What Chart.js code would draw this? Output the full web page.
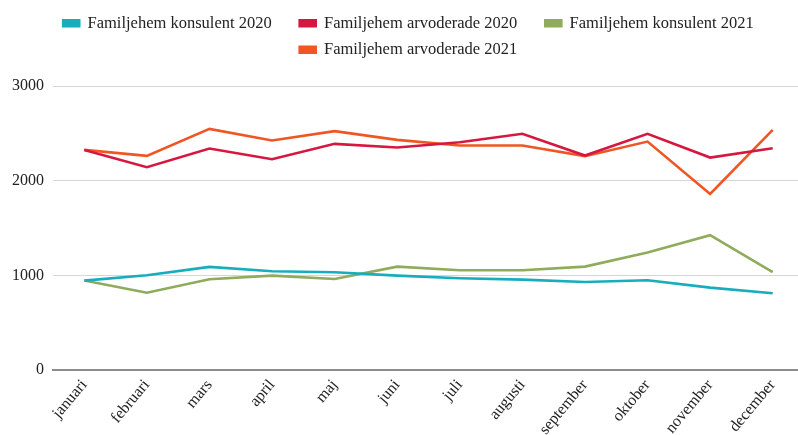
<!DOCTYPE html>
<html>
<head>
<meta charset="utf-8">
<script src="https://cdn.jsdelivr.net/npm/chart.js@4/dist/chart.umd.min.js"></script>
<style>
html,body{margin:0;padding:0;background:#fff;overflow:hidden;}
#wrap{width:806px;height:435px;position:relative;}
</style>
</head>
<body>
<div id="wrap"><canvas id="c"></canvas></div>
<script>
const months = ['januari','februari','mars','april','maj','juni','juli','augusti','september','oktober','november','december'];
const seriesNames = ['Familjehem konsulent 2020','Familjehem arvoderade 2020','Familjehem konsulent 2021','Familjehem arvoderade 2021'];
const konsulent2020 = [944, 1001, 1089, 1043, 1033, 997, 969, 955, 930, 948, 870, 811];
const arvoderade2020 = [2325, 2143, 2340, 2227, 2389, 2350, 2406, 2495, 2265, 2495, 2244, 2343];
const konsulent2021 = [946, 817, 959, 997, 962, 1092, 1054, 1054, 1092, 1240, 1424, 1033];
const arvoderade2021 = [2325, 2262, 2547, 2424, 2523, 2431, 2371, 2371, 2259, 2413, 1860, 2537];
const yTicks = [0, 1000, 2000, 3000];
const colors = ['#17adbd', '#d6173f', '#8fab5b', '#ef5624'];

const font = 'Liberation Serif, Times New Roman, serif';
const values = [konsulent2020, arvoderade2020, konsulent2021, arvoderade2021];

// Legend tweaks: extra space under the legend and wider gaps between items.
const legendSpacer = {
  id: 'legendSpacer',
  beforeInit(chart) {
    const lg = chart.legend;
    const extraGap = 18;
    const widen = (fn) => function (...args) {
      const ctx = this.ctx;
      const mt = CanvasRenderingContext2D.prototype.measureText;
      ctx.measureText = function (t) {
        const m = mt.call(this, t);
        return { width: m.width + extraGap, actualBoundingBoxAscent: m.actualBoundingBoxAscent, actualBoundingBoxDescent: m.actualBoundingBoxDescent };
      };
      try { return fn.apply(this, args); } finally { delete ctx.measureText; }
    };
    const fit = widen(lg.fit);
    lg.fit = function () { fit.call(this); this.height += 18; };
    const draw = widen(lg.draw);
    lg.draw = function (...a) {
      this.left += 14; this.right += 14;
      try { return draw.apply(this, a); } finally { this.left -= 14; this.right -= 14; }
    };
  }
};

new Chart(document.getElementById('c'), {
  type: 'line',
  data: {
    labels: months,
    datasets: values.map((v, i) => ({
      label: seriesNames[i],
      data: v,
      borderColor: colors[i],
      backgroundColor: colors[i],
      borderWidth: 2.6,
      pointRadius: 0,
      tension: 0
    }))
  },
  options: {
    responsive: true,
    maintainAspectRatio: false,
    animation: false,
    layout: { padding: { left: 3, right: 2, top: 5, bottom: 0 } },
    plugins: {
      legend: {
        position: 'top',
        labels: {
          boxWidth: 16,
          boxHeight: 6,
          padding: 10,
          color: '#222',
          font: { family: font, size: 16.5 }
        }
      },
      tooltip: { enabled: false }
    },
    scales: {
      x: {
        offset: true,
        grid: { display: false, drawTicks: false },
        border: { display: true, color: '#8c8c8c', width: 2 },
        ticks: {
          color: '#222',
          font: { family: font, size: 16 },
          minRotation: 50,
          maxRotation: 50,
          padding: 6,
          autoSkip: false
        },
        afterFit(scale) { scale.height = 65; }
      },
      y: {
        min: 0,
        max: 3000,
        afterBuildTicks(scale) { scale.ticks = yTicks.map(v => ({ value: v })); },
        grid: { color: '#d6d6d6', lineWidth: 1, drawTicks: false },
        border: { display: false },
        ticks: {
          color: '#222',
          font: { family: font, size: 16 },
          padding: 9,
          callback: (v) => String(v)
        }
      }
    }
  },
  plugins: [legendSpacer]
});
</script>
</body>
</html>
